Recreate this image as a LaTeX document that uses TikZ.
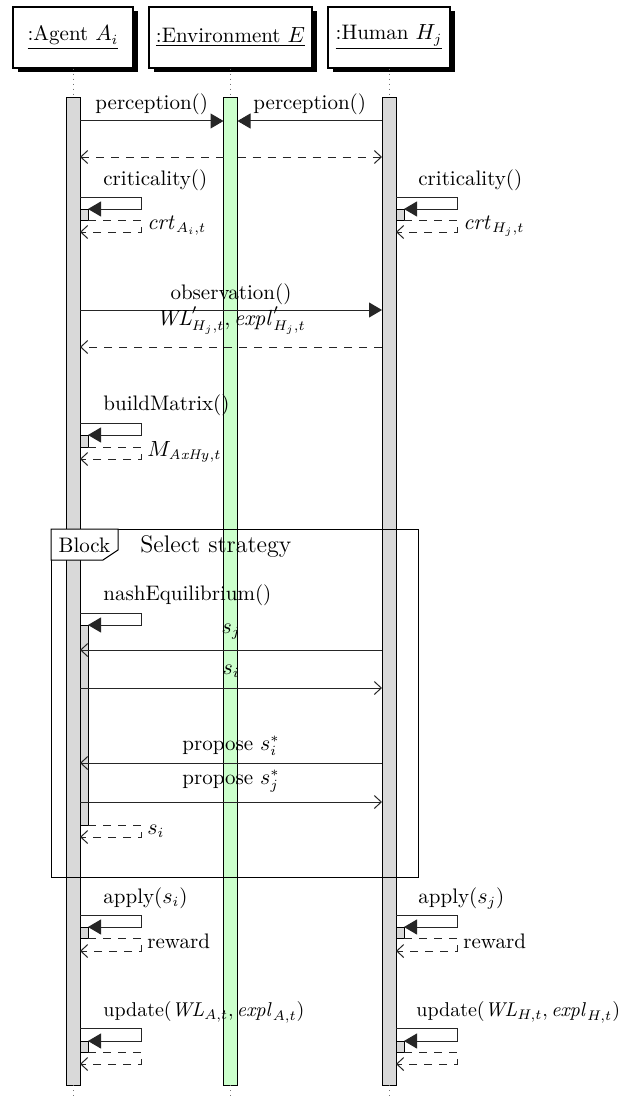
\documentclass[tikz,border=0pt]{standalone}
\usetikzlibrary{arrows.meta,shadows}
\definecolor{bargray}{gray}{0.85}
\definecolor{envgreen}{rgb}{0.8,1,0.8}
\newcommand{\selfcall}[7]{%
  \node[nestbar, anchor=north west, minimum height={(#5-#4)/2}] (#2) at (#1.east |- 0,#4) {};
  \draw[callarrow] (#1.east |- 0,#3) -- (#7,#3) -- (#7,#4) -- (#2.north east);
  \draw[retarrow] (#2.south east) -- (#7,#5) -- (#7,#6) -- (#1.east |- 0,#6);
}
\begin{document}
\begin{tikzpicture}[x=0.5pt,y=-0.5pt,
  every node/.style={font=\fontsize{10.5}{12.6}\selectfont},
  hdr/.style={draw=black, fill=white, line width=0.6pt, minimum height=30.5pt, inner sep=0pt,
     general shadow={fill=black, shadow xshift=2.4pt, shadow yshift=-2pt}},
  lifebar/.style={draw=black, line width=0.5pt, minimum width=7pt, minimum height=493.5pt,
     inner sep=0pt, outer sep=0pt, anchor=north},
  nestbar/.style={draw=black, fill=bargray, line width=0.5pt, minimum width=4pt, inner sep=0pt, outer sep=0pt},
  lifeline/.style={draw=black!55, dotted, line width=0.5pt},
  callarrow/.style={draw=black!85, line width=0.5pt, -{Triangle[length=6.5pt,width=7.5pt]}},
  msgarrow/.style={draw=black!85, line width=0.5pt, -{Straight Barb[length=3.5pt,width=6.5pt]}},
  retarrow/.style={draw=black!85, line width=0.5pt, dash pattern=on 4pt off 3.5pt,
     -{Straight Barb[length=3.5pt,width=6.5pt]}},
  lbl/.style={inner sep=0pt, anchor=base},
  lblw/.style={inner sep=0pt, anchor=base west},
  updlbl/.style={inner sep=0pt, anchor=base west, font=\fontsize{10}{12}\selectfont},
]
\useasboundingbox (0,0) rectangle (623,1102);

% headers
\node[hdr, minimum width=60pt] (hA) at (73,37.5) {\underline{:Agent $A_i$}};
\node[hdr, minimum width=81.5pt] (hE) at (230.5,37.5) {\underline{:Environment $E$}};
\node[hdr, minimum width=61pt] (hH) at (389,37.5) {\underline{:Human $H_j$}};

% activation bars
\node[lifebar, fill=bargray] (A) at (73,98) {};
\node[lifebar, fill=envgreen] (E) at (230.5,98) {};
\node[lifebar, fill=bargray] (H) at (389,98) {};

% lifelines
\coordinate (eA) at (73,1100);
\coordinate (eE) at (230.5,1100);
\coordinate (eH) at (389,1100);
\draw[lifeline] (hA.south) -- (A.north);
\draw[lifeline] (hE.south) -- (E.north);
\draw[lifeline] (hH.south) -- (H.north);
\draw[lifeline] (A.south) -- (eA);
\draw[lifeline] (E.south) -- (eE);
\draw[lifeline] (H.south) -- (eH);

% block frame
\draw[line width=0.5pt] (51,529) rectangle (418,877);
\draw[line width=0.5pt, fill=white] (51,529) -- (118,529) -- (118,550) -- (103,560) -- (51,560) -- cycle;
\node[lbl] (blk) at (84.5,552) {Block};
\node[lblw, font=\fontsize{12}{14}\selectfont] (sel) at (140,552) {Select strategy};

% perception
\node[lbl] (lp1) at (151.75,110) {perception()};
\node[lbl] (lp2) at (309.75,110) {perception()};
\draw[callarrow] (A.east |- 0,121) -- (E.west |- 0,121);
\draw[callarrow] (H.west |- 0,121) -- (E.east |- 0,121);
\draw[retarrow] (E.west |- 0,157) -- (A.east |- 0,157);
\draw[retarrow] (E.east |- 0,157) -- (H.west |- 0,157);

% criticality
\node[lblw] (lc1) at (103,185) {criticality()};
\node[lblw] (lc2) at (418,185) {criticality()};
\selfcall{A}{nA1}{197}{209}{220}{232}{141}
\selfcall{H}{nH1}{197}{209}{220}{232}{457}
\node[lblw] (rc1) at (147,229) {$\mathit{crt}_{A_i,t}$};
\node[lblw] (rc2) at (463,229) {$\mathit{crt}_{H_j,t}$};

% observation
\node[lbl] (lo) at (231,299) {observation()};
\draw[callarrow] (A.east |- 0,310) -- (H.west |- 0,310);
\node[lbl] (ro) at (231,325) {$\mathit{WL}'_{H_j,t}, \mathit{expl}'_{H_j,t}$};
\draw[retarrow] (H.west |- 0,347) -- (A.east |- 0,347);

% buildMatrix
\node[lblw] (lb) at (103,410) {buildMatrix()};
\selfcall{A}{nA2}{423}{435}{447}{459}{141}
\node[lblw] (rb) at (147,456) {$M_{\mathit{AxHy},t}$};

% nash equilibrium
\node[lblw] (ln) at (103,600) {nashEquilibrium()};
\selfcall{A}{nA3}{613}{625}{825}{837}{141}
\node[lblw] (rn) at (147,834) {$s_i$};

\node[lbl] (m1) at (231,633) {$s_j$};
\draw[msgarrow] (H.west |- 0,650) -- (A.east |- 0,650);
\node[lbl] (m2) at (231,674) {$s_i$};
\draw[msgarrow] (A.east |- 0,688) -- (H.west |- 0,688);
\node[lbl] (m3) at (231,750) {propose $s_i^*$};
\draw[msgarrow] (H.west |- 0,763) -- (A.east |- 0,763);
\node[lbl] (m4) at (231,784) {propose $s_j^*$};
\draw[msgarrow] (A.east |- 0,802) -- (H.west |- 0,802);

% apply
\node[lblw] (la1) at (103,903) {apply($s_i$)};
\node[lblw] (la2) at (418,903) {apply($s_j$)};
\selfcall{A}{nA4}{915}{927}{938}{951}{141}
\selfcall{H}{nH4}{915}{927}{938}{951}{457}
\node[lblw] (ra1) at (147,948) {reward};
\node[lblw] (ra2) at (463,948) {reward};

% update
\node[updlbl] (lu1) at (103,1016) {update($\mathit{WL}_{A,t},\mathit{expl}_{A,t}$)};
\node[updlbl] (lu2) at (416,1016) {update($\mathit{WL}_{H,t},\mathit{expl}_{H,t}$)};
\selfcall{A}{nA5}{1028}{1041}{1052}{1064}{141}
\selfcall{H}{nH5}{1028}{1041}{1052}{1064}{457}
\end{tikzpicture}
\end{document}
